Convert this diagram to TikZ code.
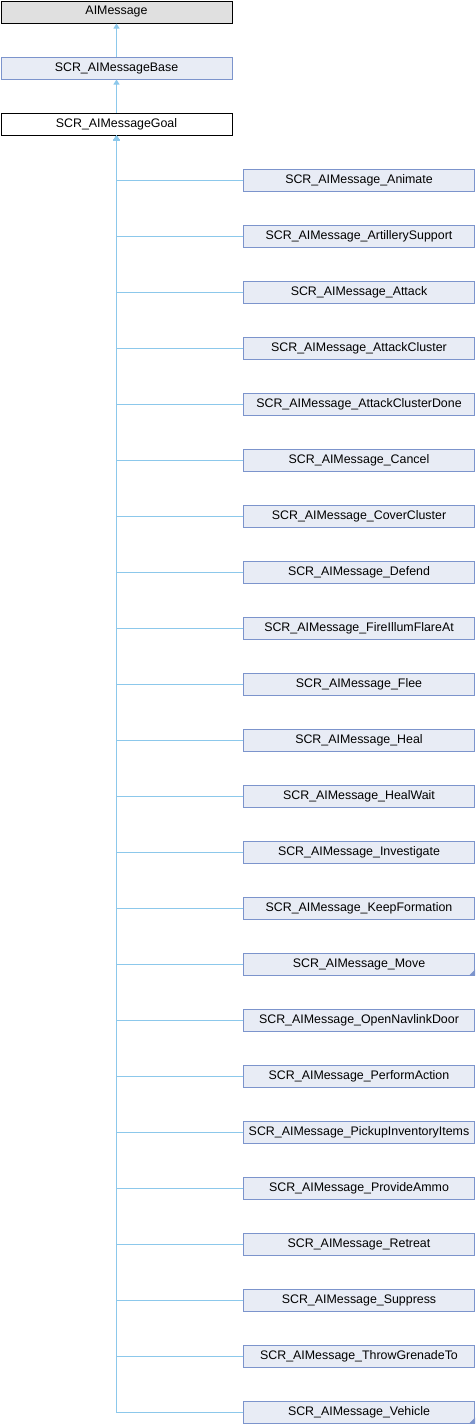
\documentclass[tikz,border=0pt]{standalone}
\usepackage{fontspec}
\setmainfont{Liberation Sans}
\usetikzlibrary{arrows.meta}

\definecolor{edgeblue}{RGB}{140,200,235}
\definecolor{classfill}{RGB}{232,236,245}
\definecolor{classline}{RGB}{124,148,204}
\definecolor{extfill}{RGB}{224,224,224}

\tikzset{
  classbox/.style={draw=classline,fill=classfill,line width=1pt,minimum width=231pt,minimum height=22pt,inner sep=0pt,font=\fontsize{12.4}{14}\selectfont},
  extbox/.style={classbox,draw=black,fill=extfill},
  goalbox/.style={classbox,draw=black,fill=white},
  inherit/.style={edgeblue,line width=1pt,-{Triangle[length=5pt,width=6pt]}}
}

\begin{document}
\begin{tikzpicture}[x=1pt,y=-1pt]
\useasboundingbox (0,0) rectangle (476,1424);

% base classes:
\node[extbox] (msg) at (116.5,12) {AIMessage};
\node[classbox] (base) at (116.5,68) {SCR\_AIMessageBase};
\node[goalbox] (goal) at (116.5,124) {SCR\_AIMessageGoal};
\draw[inherit] (base) -- (msg);
\draw[inherit] (goal) -- (base);

% derived classes:
\foreach \name [count=\i from 0] in {Animate,ArtillerySupport,Attack,AttackCluster,AttackClusterDone,Cancel,CoverCluster,Defend,FireIllumFlareAt,Flee,Heal,HealWait,Investigate,KeepFormation,Move,OpenNavlinkDoor,PerformAction,PickupInventoryItems,ProvideAmmo,Retreat,Suppress,ThrowGrenadeTo,Vehicle}{
  \node[classbox] (c\i) at (359,180+56*\i) {SCR\_AIMessage\_\name};
  \draw[inherit] (c\i.west) -| (goal.south);
}

% more marks:
\fill[classline] (c14.south east) -- ++(0,-6) -- ++(-6,6) -- cycle;
\fill[classline] (c22.south east) -- ++(0,-6) -- ++(-6,6) -- cycle;

\end{tikzpicture}
\end{document}
